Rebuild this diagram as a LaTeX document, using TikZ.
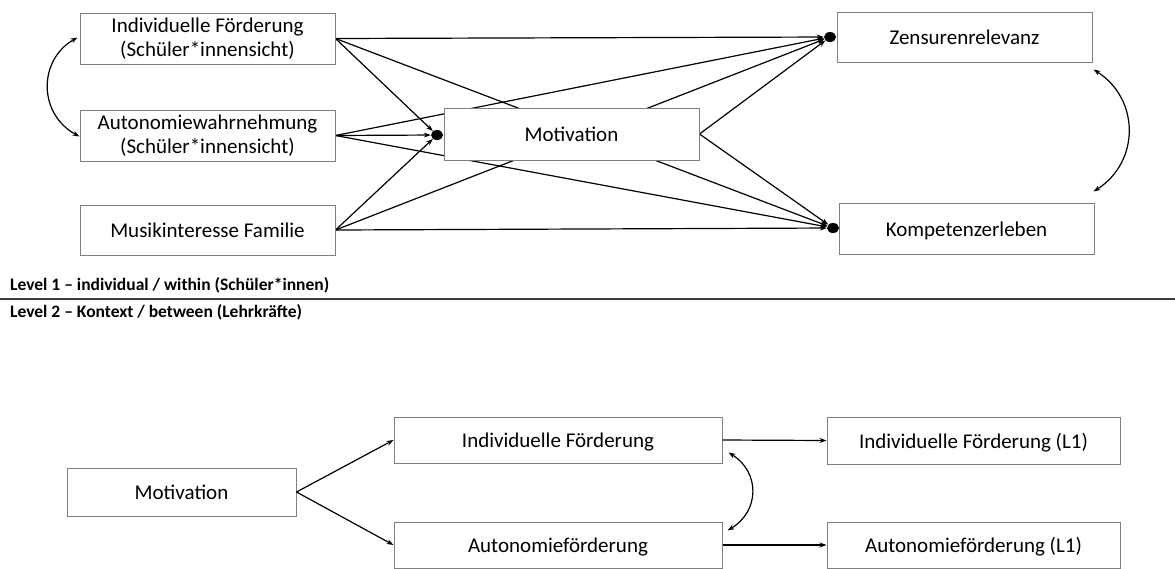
\documentclass[tikz,border=0pt]{standalone}
\usepackage{fontspec}
\setmainfont{Carlito}
\usetikzlibrary{arrows.meta,calc,shapes.geometric}
\definecolor{boxgray}{HTML}{7F7F7F}
\definecolor{sepgray}{HTML}{404040}
\pgfdeclarelayer{bg}
\pgfsetlayers{bg,main}
\begin{document}
\begin{tikzpicture}[x=1pt,y=-1pt,
  box/.style={draw=boxgray,line width=1pt,fill=white,inner sep=0pt,
    font=\fontsize{21}{23.5}\selectfont},
  mbox/.style={box,align=center},
  sbox/.style={box,text height=15pt,text depth=0pt},
  dotnode/.style={ellipse,fill=black,inner sep=0pt,minimum width=12pt,minimum height=10pt},
  conn/.style={line width=1.2pt,-{Stealth[length=7pt,width=5pt]}},
  dconn/.style={line width=1.2pt,{Stealth[length=7pt,width=5pt]}-{Stealth[length=7pt,width=5pt]}},
  lvl/.style={anchor=west,inner sep=0pt,font=\bfseries\fontsize{17.5}{20}\selectfont}]
\useasboundingbox (0,0) rectangle (1175,568);
% Level 1 boxes
\node[mbox,minimum width=255pt,minimum height=51pt] (IF) at (207.5,38.5) {Individuelle Förderung\\(Schüler*innensicht)};
\node[mbox,minimum width=255pt,minimum height=51pt] (AW) at (207.5,135.5) {Autonomiewahrnehmung\\(Schüler*innensicht)};
\node[sbox,minimum width=255pt,minimum height=50pt] (MF) at (207.5,230) {Musikinteresse Familie};
\node[sbox,minimum width=255pt,minimum height=52pt] (MO) at (571.5,134) {Motivation};
\node[sbox,minimum width=255pt,minimum height=50pt] (ZR) at (964.5,37) {Zensurenrelevanz};
\node[sbox,minimum width=255pt,minimum height=51pt] (KE) at (966.5,228.5) {Kompetenzerleben};
\node[dotnode] (dMO) at (437,135) {};
\node[dotnode] (dZR) at (830,37) {};
\node[dotnode] (dKE) at (833,228) {};
\begin{pgfonlayer}{bg}
\draw[conn] (IF.east) -- (dZR);
\draw[conn] (IF.east) -- (dMO);
\draw[conn] (IF.east) -- (dKE);
\draw[conn] (AW.east) -- (dZR);
\draw[conn] (AW.east) -- (dMO);
\draw[conn] (AW.east) -- (dKE);
\draw[conn] (MF.east) -- (dZR);
\draw[conn] (MF.east) -- (dMO);
\draw[conn] (MF.east) -- (dKE);
\draw[conn] (MO.east) -- (dZR);
\draw[conn] (MO.east) -- (dKE);
\end{pgfonlayer}
\draw[dconn] ($(IF.west)+(-2,-1)$) .. controls (38,60) and (38,114) .. ($(AW.west)+(0,1)$);
\draw[dconn] ($(ZR.south east)+(1,7)$) .. controls (1140,99) and (1140,162) .. ($(KE.north east)+(-1,-11)$);
% separator
\node[lvl] (L1) at (10,285) {Level 1 – individual / within (Schüler*innen)};
\node[lvl] (L2) at (10,312) {Level 2 – Kontext / between (Lehrkräfte)};
\coordinate (sepL) at (0,299);
\coordinate (sepR) at (1175,299);
\draw[sepgray,line width=2pt] (sepL) -- (sepR);
% Level 2 boxes
\node[sbox,minimum width=229pt,minimum height=48pt] (MO2) at (181.5,492) {Motivation};
\node[sbox,minimum width=328pt,minimum height=46pt] (IF2) at (558,440) {Individuelle Förderung};
\node[sbox,minimum width=328pt,minimum height=46pt] (AF2) at (558,545) {Autonomieförderung};
\node[sbox,minimum width=293pt,minimum height=47pt] (IFL) at (973.5,440.5) {Individuelle Förderung (L1)};
\node[sbox,minimum width=293pt,minimum height=46pt] (AFL) at (973.5,545) {Autonomieförderung (L1)};
\draw[conn] (MO2.east) -- (IF2.west);
\draw[conn] (MO2.east) -- (AF2.west);
\draw[conn] (IF2.east) -- (IFL.west);
\draw[conn] (AF2.east) -- (AFL.west);
\draw[dconn] ($(IF2.south east)+(6,-11)$) .. controls (760,472) and (760,511) .. ($(AF2.north east)+(5,9)$);
\end{tikzpicture}
\end{document}
